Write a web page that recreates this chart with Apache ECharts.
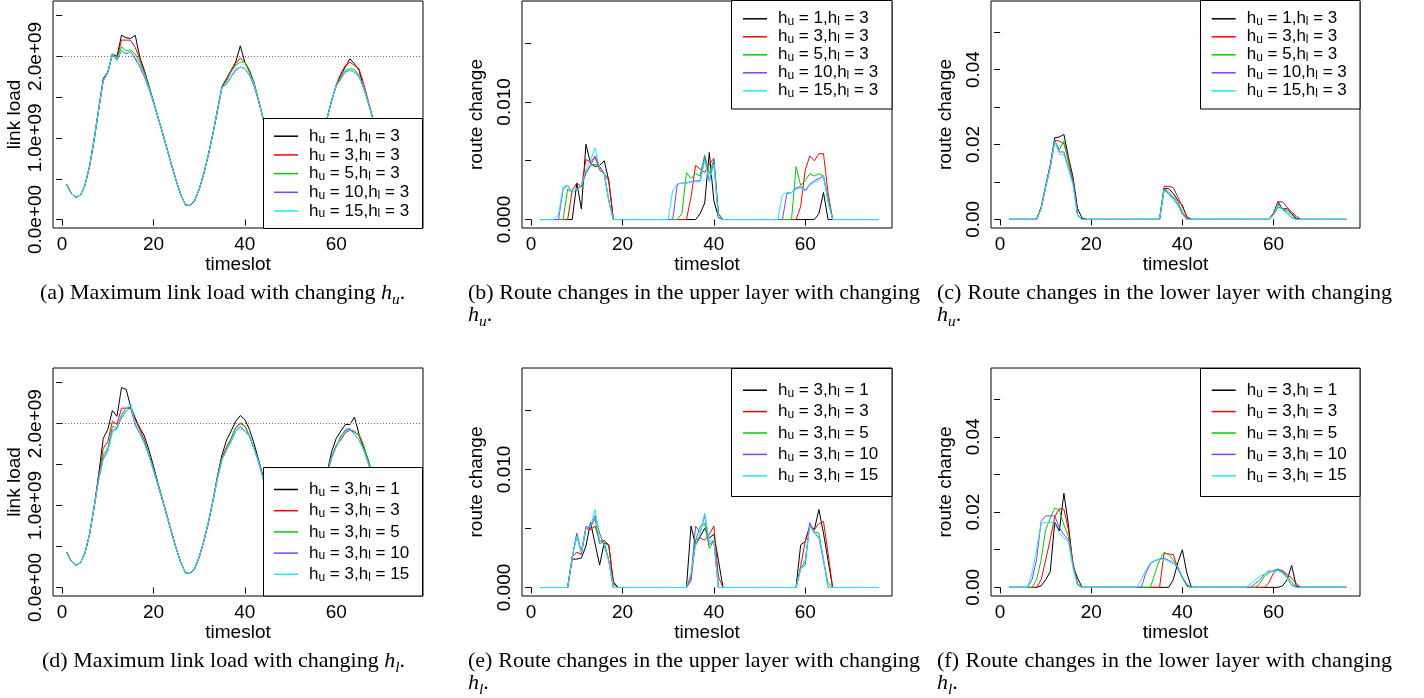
<!DOCTYPE html>
<html>
<head>
<meta charset="utf-8">
<script src="https://cdn.jsdelivr.net/npm/echarts@6/dist/echarts.min.js"></script>
<style>
  html, body { margin: 0; padding: 0; background: #fff; }
  #chart { position: absolute; left: 0; top: 0; width: 1424px; height: 698px; }
  .cap { position: absolute; font-family: 'Liberation Serif', 'Times New Roman', serif; font-size: 22px; line-height: 22px; color: #000; white-space: nowrap; }
  .cap .just { text-align: justify; text-align-last: justify; white-space: normal; }
  .cap sub { font-size: 70%; line-height: 0; vertical-align: -0.3em; }
</style>
</head>
<body>
<div id="chart"></div>
<div class="cap" style="left:40px;top:281px">(a) Maximum link load with changing <i>h<sub>u</sub></i>.</div>
<div class="cap" style="left:468px;top:281px;width:452px"><div class="just">(b) Route changes in the upper layer with changing</div><div><i>h<sub>u</sub></i>.</div></div>
<div class="cap" style="left:937px;top:281px;width:455px"><div class="just">(c) Route changes in the lower layer with changing</div><div><i>h<sub>u</sub></i>.</div></div>
<div class="cap" style="left:42px;top:649px">(d) Maximum link load with changing <i>h<sub>l</sub></i>.</div>
<div class="cap" style="left:468px;top:649px;width:452px"><div class="just">(e) Route changes in the upper layer with changing</div><div><i>h<sub>l</sub></i>.</div></div>
<div class="cap" style="left:937px;top:649px;width:455px"><div class="just">(f) Route changes in the lower layer with changing</div><div><i>h<sub>l</sub></i>.</div></div>
<script>
// timeslots
const timeslotLoad = [1,2,3,4,5,6,7,8,9,10,11,12,13,14,15,16,17,18,19,20,21,22,23,24,25,26,27,28,29,30,31,32,33,34,35,36,37,38,
  39,40,41,42,43,44,45,46,47,48,49,50,51,52,53,54,55,56,57,58,59,60,61,62,63,64,65,66,67,68,69,70,71,72,73,74,75,76];
const timeslotRoute = [2,3,4,5,6,7,8,9,10,11,12,13,14,15,16,17,18,19,20,21,22,23,24,25,26,27,28,29,30,31,32,33,34,35,36,37,38,
  39,40,41,42,43,44,45,46,47,48,49,50,51,52,53,54,55,56,57,58,59,60,61,62,63,64,65,66,67,68,69,70,71,72,73,74,75,76];

// legend names
const namesHu = ['h_u = 1,h_l = 3', 'h_u = 3,h_l = 3', 'h_u = 5,h_l = 3', 'h_u = 10,h_l = 3', 'h_u = 15,h_l = 3'];
const namesHl = ['h_u = 3,h_l = 1', 'h_u = 3,h_l = 3', 'h_u = 3,h_l = 5', 'h_u = 3,h_l = 10', 'h_u = 3,h_l = 15'];

// maximum link load, in units of 1e9
const linkCapacity = 2.0;
const loadHu1 = [0.43,0.32,0.27,0.30,0.42,0.65,0.98,1.35,1.73,1.81,
  2.03,2.00,2.26,2.23,2.22,2.26,1.99,1.83,1.64,1.45,
  1.25,1.06,0.86,0.66,0.47,0.30,0.18,0.17,0.23,0.37,
  0.56,0.79,1.05,1.34,1.63,1.73,1.83,1.93,2.13,1.93,
  1.83,1.68,1.46,1.24,1.03,0.82,0.62,0.44,0.29,0.19,
  0.16,0.18,0.26,0.41,0.61,0.83,1.04,1.24,1.46,1.64,
  1.77,1.87,1.97,1.91,1.83,1.62,1.44,1.24,1.02,0.81,
  0.61,0.44,0.31,0.23,0.19,0.18];
const loadHu3 = [0.43,0.32,0.27,0.30,0.42,0.65,0.98,1.35,1.71,1.81,
  2.03,1.97,2.20,2.20,2.20,2.11,1.97,1.81,1.62,1.44,
  1.25,1.06,0.86,0.66,0.47,0.30,0.18,0.17,0.23,0.37,
  0.56,0.79,1.05,1.34,1.62,1.72,1.83,1.91,1.98,1.93,
  1.81,1.67,1.46,1.24,1.03,0.82,0.62,0.44,0.29,0.19,
  0.16,0.18,0.26,0.41,0.61,0.83,1.04,1.24,1.46,1.65,
  1.79,1.89,1.93,1.89,1.85,1.67,1.46,1.25,1.02,0.81,
  0.61,0.44,0.31,0.23,0.19,0.18];
const loadHu5 = [0.43,0.32,0.27,0.30,0.42,0.65,0.98,1.35,1.71,1.81,
  2.03,1.97,2.12,2.07,2.08,2.03,1.93,1.79,1.62,1.44,
  1.25,1.06,0.86,0.66,0.47,0.30,0.18,0.17,0.23,0.37,
  0.56,0.79,1.05,1.34,1.62,1.70,1.81,1.89,1.93,1.93,
  1.81,1.67,1.46,1.24,1.03,0.82,0.62,0.44,0.29,0.19,
  0.16,0.18,0.26,0.41,0.61,0.83,1.04,1.24,1.46,1.64,
  1.74,1.83,1.85,1.84,1.77,1.62,1.44,1.24,1.02,0.81,
  0.61,0.44,0.31,0.23,0.19,0.18];
const loadHu10 = [0.43,0.32,0.27,0.30,0.42,0.65,0.98,1.35,1.70,1.80,
  2.03,1.95,2.07,2.03,2.06,1.97,1.87,1.75,1.60,1.43,
  1.25,1.06,0.86,0.66,0.47,0.30,0.18,0.17,0.23,0.37,
  0.56,0.79,1.05,1.34,1.62,1.66,1.75,1.83,1.87,1.85,
  1.77,1.64,1.45,1.24,1.03,0.82,0.62,0.44,0.29,0.19,
  0.16,0.18,0.26,0.41,0.61,0.83,1.04,1.24,1.46,1.64,
  1.72,1.81,1.83,1.81,1.75,1.61,1.43,1.24,1.02,0.81,
  0.61,0.44,0.31,0.23,0.19,0.18];
const loadHu15 = [0.43,0.32,0.27,0.30,0.42,0.65,0.98,1.35,1.70,1.80,
  2.03,1.96,2.07,2.04,2.06,1.99,1.89,1.78,1.61,1.44,
  1.25,1.06,0.86,0.66,0.47,0.30,0.18,0.17,0.23,0.37,
  0.56,0.79,1.05,1.34,1.62,1.67,1.76,1.85,1.87,1.85,
  1.78,1.66,1.46,1.24,1.03,0.82,0.62,0.44,0.29,0.19,
  0.16,0.18,0.26,0.41,0.61,0.83,1.04,1.24,1.46,1.64,
  1.72,1.82,1.83,1.81,1.76,1.62,1.44,1.24,1.02,0.81,
  0.61,0.44,0.31,0.23,0.19,0.18];

const loadHl1 = [0.43,0.32,0.27,0.30,0.42,0.65,0.98,1.38,1.82,1.93,
  2.16,2.09,2.44,2.42,2.21,2.07,1.95,1.85,1.68,1.48,
  1.27,1.07,0.87,0.67,0.47,0.30,0.18,0.17,0.23,0.37,
  0.56,0.79,1.06,1.36,1.62,1.80,1.91,2.03,2.10,2.05,
  1.93,1.76,1.56,1.36,1.12,0.88,0.65,0.45,0.29,0.19,
  0.16,0.18,0.26,0.41,0.62,0.86,1.10,1.40,1.66,1.82,
  1.91,1.99,1.99,2.08,1.87,1.72,1.56,1.36,1.10,0.86,
  0.64,0.46,0.32,0.24,0.20,0.19];
const loadHl3 = [0.43,0.32,0.27,0.30,0.42,0.65,0.98,1.35,1.70,1.78,
  2.03,1.99,2.19,2.19,2.19,2.05,1.93,1.80,1.62,1.45,
  1.25,1.06,0.86,0.66,0.47,0.30,0.18,0.17,0.23,0.37,
  0.56,0.79,1.05,1.34,1.58,1.72,1.82,1.95,2.01,1.97,
  1.85,1.70,1.54,1.34,1.10,0.86,0.64,0.45,0.29,0.19,
  0.16,0.18,0.26,0.41,0.61,0.84,1.08,1.38,1.60,1.74,
  1.80,1.89,1.92,1.91,1.85,1.70,1.54,1.34,1.08,0.84,
  0.62,0.45,0.31,0.23,0.19,0.18];
const loadHl5 = [0.43,0.32,0.27,0.30,0.42,0.65,0.98,1.33,1.62,1.70,
  1.97,1.95,2.07,2.15,2.20,2.00,1.89,1.78,1.62,1.44,
  1.25,1.06,0.86,0.66,0.47,0.30,0.18,0.17,0.23,0.37,
  0.56,0.79,1.05,1.34,1.58,1.68,1.82,1.95,2.00,1.97,
  1.85,1.70,1.54,1.34,1.10,0.86,0.64,0.45,0.29,0.19,
  0.16,0.18,0.26,0.41,0.61,0.84,1.08,1.38,1.60,1.72,
  1.85,1.91,1.93,1.89,1.87,1.74,1.55,1.34,1.08,0.84,
  0.62,0.45,0.31,0.23,0.19,0.18];
const loadHl10 = [0.43,0.32,0.27,0.30,0.42,0.65,0.98,1.32,1.58,1.67,
  1.92,1.94,2.11,2.19,2.20,1.98,1.88,1.76,1.61,1.43,
  1.25,1.06,0.86,0.66,0.47,0.30,0.18,0.17,0.23,0.37,
  0.56,0.79,1.05,1.33,1.56,1.68,1.78,1.91,1.97,1.91,
  1.85,1.70,1.53,1.33,1.10,0.86,0.64,0.45,0.29,0.19,
  0.16,0.18,0.26,0.41,0.61,0.84,1.08,1.37,1.58,1.72,
  1.82,1.93,1.94,1.87,1.80,1.68,1.52,1.33,1.08,0.84,
  0.62,0.45,0.31,0.23,0.19,0.18];
const loadHl15 = [0.43,0.32,0.27,0.30,0.42,0.65,0.98,1.31,1.56,1.66,
  1.89,1.93,2.09,2.18,2.25,1.99,1.89,1.76,1.61,1.43,
  1.25,1.06,0.86,0.66,0.47,0.30,0.18,0.17,0.23,0.37,
  0.56,0.79,1.05,1.33,1.56,1.68,1.78,1.91,1.94,1.91,
  1.85,1.70,1.53,1.33,1.10,0.86,0.64,0.45,0.29,0.19,
  0.16,0.18,0.26,0.41,0.61,0.84,1.08,1.37,1.58,1.72,
  1.82,1.91,1.92,1.87,1.80,1.68,1.52,1.33,1.08,0.84,
  0.62,0.45,0.31,0.23,0.19,0.18];

// route changes in the upper layer, changing h_u (timeslot 2..76)
const routeUpHu1 = [0,0,0,0,0,0,0,0,0.0031,0.0009,
  0.0064,0.0048,0.0045,0.0046,0.0050,0.0033,0,0,0,0,
  0,0,0,0,0,0,0,0,0,0,
  0,0,0,0,0,0.0005,0.0014,0.0057,0.0016,0.0002,
  0,0,0,0,0,0,0,0,0,0,
  0,0,0,0,0,0,0,0,0,0,
  0,0.0005,0.0023,0,0,0,0,0,0,0,
  0,0,0,0,0];
const routeUpHu3 = [0,0,0,0,0,0,0,0.0025,0.0031,0.0028,
  0.0051,0.0049,0.0053,0.0042,0.0039,0.0033,0,0,0,0,
  0,0,0,0,0,0,0,0,0,0,
  0,0,0,0.0019,0.0046,0.0043,0.0040,0.0047,0.0052,0.0005,
  0,0,0,0,0,0,0,0,0,0,
  0,0,0,0,0,0,0,0.0011,0.0042,0.0054,
  0.0050,0.0056,0.0056,0.0023,0,0,0,0,0,0,
  0,0,0,0,0];
const routeUpHu5 = [0,0,0,0,0,0,0.0026,0.0023,0.0026,0.0028,
  0.0039,0.0046,0.0047,0.0045,0.0039,0.0016,0,0,0,0,
  0,0,0,0,0,0,0,0,0,0,
  0,0.0005,0.0040,0.0035,0.0039,0.0037,0.0055,0.0039,0.0051,0.0005,
  0,0,0,0,0,0,0,0,0,0,
  0,0,0,0,0,0,0.0045,0.0029,0.0033,0.0039,
  0.0037,0.0039,0.0037,0.0019,0,0,0,0,0,0,
  0,0,0,0,0];
const routeUpHu10 = [0,0,0,0,0,0.0026,0.0029,0.0023,0.0026,0.0029,
  0.0040,0.0046,0.0054,0.0045,0.0039,0.0016,0,0,0,0,
  0,0,0,0,0,0,0,0,0,0,
  0.0030,0.0031,0.0031,0.0032,0.0033,0.0033,0.0053,0.0033,0.0049,0.0002,
  0,0,0,0,0,0,0,0,0,0,
  0,0,0,0,0.0022,0.0023,0.0027,0.0028,0.0025,0.0030,
  0.0033,0.0035,0.0037,0.0016,0,0,0,0,0,0,
  0,0,0,0,0];
const routeUpHu15 = [0,0,0,0,0.0004,0.0028,0.0029,0.0023,0.0026,0.0029,
  0.0042,0.0050,0.0061,0.0043,0.0040,0.0016,0,0,0,0,
  0,0,0,0,0,0,0,0,0,0.0025,
  0.0030,0.0031,0.0031,0.0032,0.0032,0.0032,0.0050,0.0032,0.0047,0.0001,
  0,0,0,0,0,0,0,0,0,0,
  0,0,0,0.0021,0.0023,0.0023,0.0026,0.0027,0.0024,0.0029,
  0.0032,0.0033,0.0037,0.0015,0,0,0,0,0,0,
  0,0,0,0,0];

// route changes in the lower layer, changing h_u
const routeLowHu1 = [0,0,0,0,0,0,0,0.0029,0.0090,0.0145,
  0.0218,0.0220,0.0227,0.0166,0.0113,0.0029,0.0003,0,0,0,
  0,0,0,0,0,0,0,0,0,0,
  0,0,0,0,0.0082,0.0082,0.0069,0.0051,0.0038,0.0005,
  0,0,0,0,0,0,0,0,0,0,
  0,0,0,0,0,0,0,0,0.0016,0.0047,
  0.0027,0.0029,0.0016,0.0003,0,0,0,0,0,0,
  0,0,0,0,0];
const routeLowHu3 = [0,0,0,0,0,0,0,0.0034,0.0087,0.0140,
  0.0211,0.0209,0.0202,0.0162,0.0104,0.0012,0,0,0,0,
  0,0,0,0,0,0,0,0,0,0,
  0,0,0,0,0.0088,0.0088,0.0085,0.0060,0.0034,0.0007,
  0,0,0,0,0,0,0,0,0,0,
  0,0,0,0,0,0,0,0,0.0014,0.0047,
  0.0047,0.0032,0.0020,0.0009,0,0,0,0,0,0,
  0,0,0,0,0];
const routeLowHu5 = [0,0,0,0,0,0,0,0.0029,0.0087,0.0140,
  0.0210,0.0186,0.0209,0.0153,0.0100,0.0012,0,0,0,0,
  0,0,0,0,0,0,0,0,0,0,
  0,0,0,0,0.0082,0.0073,0.0060,0.0047,0.0020,0,
  0,0,0,0,0,0,0,0,0,0,
  0,0,0,0,0,0,0,0,0.0012,0.0032,
  0.0029,0.0023,0.0012,0,0,0,0,0,0,0,
  0,0,0,0,0];
const routeLowHu10 = [0,0,0,0,0,0,0,0.0029,0.0087,0.0140,
  0.0210,0.0180,0.0180,0.0140,0.0100,0.0012,0,0,0,0,
  0,0,0,0,0,0,0,0,0,0,
  0,0,0,0,0.0080,0.0069,0.0056,0.0041,0.0016,0,
  0,0,0,0,0,0,0,0,0,0,
  0,0,0,0,0,0,0,0,0.0012,0.0038,
  0.0027,0.0018,0.0005,0,0,0,0,0,0,0,
  0,0,0,0,0];
const routeLowHu15 = [0,0,0,0,0,0,0,0.0028,0.0085,0.0138,
  0.0208,0.0175,0.0173,0.0135,0.0091,0.0012,0,0,0,0,
  0,0,0,0,0,0,0,0,0,0,
  0,0,0,0,0.0078,0.0067,0.0053,0.0038,0.0012,0,
  0,0,0,0,0,0,0,0,0,0,
  0,0,0,0,0,0,0,0,0.0012,0.0041,
  0.0025,0.0016,0.0003,0,0,0,0,0,0,0,
  0,0,0,0,0];

// route changes in the upper layer, changing h_l
const routeUpHl1 = [0,0,0,0,0,0,0,0.0024,0.0024,0.0025,
  0.0035,0.0055,0.0037,0.0019,0.0038,0.0036,0.0005,0,0,0,
  0,0,0,0,0,0,0,0,0,0,
  0,0,0,0.0052,0.0036,0.0043,0.0050,0.0042,0.0045,0.0023,
  0,0,0,0,0,0,0,0,0,0,
  0,0,0,0,0,0,0,0.0036,0.0039,0.0052,
  0.0049,0.0066,0.0046,0.0023,0,0,0,0,0,0,
  0,0,0,0,0];
const routeUpHl3 = [0,0,0,0,0,0,0,0.0026,0.0030,0.0028,
  0.0050,0.0049,0.0052,0.0039,0.0040,0.0036,0.0003,0,0,0,
  0,0,0,0,0,0,0,0,0,0,
  0,0,0,0.0006,0.0040,0.0042,0.0040,0.0045,0.0052,0.0009,
  0,0,0,0,0,0,0,0,0,0,
  0,0,0,0,0,0,0,0.0018,0.0039,0.0052,
  0.0049,0.0054,0.0056,0.0029,0,0,0,0,0,0,
  0,0,0,0,0];
const routeUpHl5 = [0,0,0,0,0,0,0,0.0026,0.0043,0.0030,
  0.0050,0.0052,0.0058,0.0037,0.0039,0.0023,0,0,0,0,
  0,0,0,0,0,0,0,0,0,0,
  0,0,0,0.0009,0.0040,0.0052,0.0054,0.0033,0.0040,0,
  0,0,0,0,0,0,0,0,0,0,
  0,0,0,0,0,0,0,0.0016,0.0019,0.0053,
  0.0047,0.0046,0.0023,0.0004,0,0,0,0,0,0,
  0,0,0,0,0];
const routeUpHl10 = [0,0,0,0,0,0,0,0.0026,0.0046,0.0030,
  0.0052,0.0050,0.0061,0.0046,0.0035,0.0023,0,0,0,0,
  0,0,0,0,0,0,0,0,0,0,
  0,0,0,0.0009,0.0052,0.0046,0.0061,0.0036,0.0040,0,
  0,0,0,0,0,0,0,0,0,0,
  0,0,0,0,0,0,0,0.0016,0.0022,0.0055,
  0.0046,0.0042,0.0023,0,0,0,0,0,0,0,
  0,0,0,0,0];
const routeUpHl15 = [0,0,0,0,0,0,0,0.0026,0.0043,0.0030,
  0.0050,0.0052,0.0066,0.0040,0.0036,0.0022,0,0,0,0,
  0,0,0,0,0,0,0,0,0,0,
  0,0,0,0.0012,0.0036,0.0046,0.0063,0.0039,0.0040,0,
  0,0,0,0,0,0,0,0,0,0,
  0,0,0,0,0,0,0,0.0016,0.0023,0.0052,
  0.0046,0.0043,0.0025,0,0,0,0,0,0,0,
  0,0,0,0,0];

// route changes in the lower layer, changing h_l
const routeLowHl1 = [0,0,0,0,0,0,0,0.0004,0.0020,0.0042,
  0.0173,0.0150,0.0250,0.0166,0.0056,0.0025,0,0,0,0,
  0,0,0,0,0,0,0,0,0,0,
  0,0,0,0,0,0,0.0020,0.0065,0.0100,0.0038,
  0,0,0,0,0,0,0,0,0,0,
  0,0,0,0,0,0,0,0,0,0,
  0.0004,0.0020,0.0058,0.0003,0,0,0,0,0,0,
  0,0,0,0,0];
const routeLowHl3 = [0,0,0,0,0,0,0,0.0020,0.0073,0.0127,
  0.0188,0.0209,0.0208,0.0153,0.0065,0.0010,0,0,0,0,
  0,0,0,0,0,0,0,0,0,0,
  0,0,0,0,0.0091,0.0089,0.0087,0.0051,0.0027,0.0003,
  0,0,0,0,0,0,0,0,0,0,
  0,0,0,0,0,0,0,0.0012,0.0038,0.0047,
  0.0045,0.0034,0.0025,0.0010,0,0,0,0,0,0,
  0,0,0,0,0];
const routeLowHl5 = [0,0,0,0,0,0,0.0020,0.0073,0.0153,0.0184,
  0.0211,0.0206,0.0166,0.0135,0.0060,0.0007,0,0,0,0,
  0,0,0,0,0,0,0,0,0,0,
  0,0,0.0038,0.0073,0.0093,0.0087,0.0073,0.0051,0.0025,0.0004,
  0,0,0,0,0,0,0,0,0,0,
  0,0,0,0,0,0.0010,0.0029,0.0038,0.0045,0.0049,
  0.0042,0.0031,0.0013,0,0,0,0,0,0,0,
  0,0,0,0,0];
const routeLowHl10 = [0,0,0,0,0,0.0020,0.0073,0.0175,0.0190,0.0190,
  0.0190,0.0158,0.0140,0.0127,0.0056,0.0007,0,0,0,0,
  0,0,0,0,0,0,0,0,0,0,
  0.0038,0.0063,0.0071,0.0075,0.0078,0.0072,0.0065,0.0051,0.0027,0.0007,
  0,0,0,0,0,0,0,0,0,0,
  0,0,0,0,0.0010,0.0020,0.0034,0.0044,0.0042,0.0047,
  0.0040,0.0025,0.0005,0,0,0,0,0,0,0,
  0,0,0,0,0];
const routeLowHl15 = [0,0,0,0,0,0.0038,0.0100,0.0170,0.0173,0.0173,
  0.0170,0.0144,0.0131,0.0122,0.0051,0.0007,0,0,0,0,
  0,0,0,0,0,0,0,0,0,0.0020,
  0.0045,0.0066,0.0072,0.0075,0.0075,0.0069,0.0063,0.0056,0.0029,0.0010,
  0,0,0,0,0,0,0,0,0,0,
  0,0,0,0.0010,0.0020,0.0029,0.0035,0.0041,0.0042,0.0045,
  0.0038,0.0025,0.0007,0,0,0,0,0,0,0,
  0,0,0,0,0];

// tick positions
const xTicks = [0, 20, 40, 60];
const loadTicks = [0, 0.5, 1, 1.5, 2, 2.5];
const loadLabels = [0, 1, 2];
const upTicks = [0, 0.005, 0.01, 0.015];
const upLabels = [0, 0.01];
const lowTicks = [0, 0.01, 0.02, 0.03, 0.04, 0.05];
const lowLabels = [0, 0.02, 0.04];

const lineColors = ['#000000', '#ff0000', '#00cd00', '#8040ff', '#1ee8ff'];
const FONT = "'Liberation Sans', Arial, Helvetica, sans-serif";

function sci(v) {
    const s = (v * 1e9).toExponential(1);
    const parts = s.split('e');
    return parts[0] + 'e' + parts[1][0] + parts[1].slice(1).padStart(2, '0');
}

const panels = [
    { grid: { left: 53, top: 1, width: 370, height: 227 }, xs: timeslotLoad,
      ys: [loadHu1, loadHu3, loadHu5, loadHu10, loadHu15], names: namesHu,
      yMin: -0.104, yMax: 2.68, ticks: loadTicks, labels: loadLabels, fmt: sci,
      yName: 'link load', nameGap: 29, capacity: true,
      legend: { left: 274, top: 127.7, gap: 1.2 }, box: [263.5, 118.5, 159, 110] },
    { grid: { left: 522, top: 1, width: 370, height: 227 }, xs: timeslotRoute,
      ys: [routeUpHu1, routeUpHu3, routeUpHu5, routeUpHu10, routeUpHu15], names: namesHu,
      yMin: -0.00072, yMax: 0.01858, ticks: upTicks, labels: upLabels, fmt: (v) => v.toFixed(3),
      yName: 'route change', nameGap: 36,
      legend: { left: 743, top: 10.3, gap: 0.5 }, box: [731.5, 0.5, 160.5, 108.5] },
    { grid: { left: 991, top: 1, width: 369, height: 227 }, xs: timeslotRoute,
      ys: [routeLowHu1, routeLowHu3, routeLowHu5, routeLowHu10, routeLowHu15], names: namesHu,
      yMin: -0.0023, yMax: 0.0583, ticks: lowTicks, labels: lowLabels, fmt: (v) => v.toFixed(2),
      yName: 'route change', nameGap: 36,
      legend: { left: 1211.7, top: 10.3, gap: 0.5 }, box: [1200.5, 0.5, 159.5, 108.5] },
    { grid: { left: 53, top: 368, width: 370, height: 228 }, xs: timeslotLoad,
      ys: [loadHl1, loadHl3, loadHl5, loadHl10, loadHl15], names: namesHl,
      yMin: -0.104, yMax: 2.68, ticks: loadTicks, labels: loadLabels, fmt: sci,
      yName: 'link load', nameGap: 29, capacity: true,
      legend: { left: 274, top: 481, gap: 3.7 }, box: [263.5, 467.5, 159, 128.5] },
    { grid: { left: 522, top: 368, width: 370, height: 228 }, xs: timeslotRoute,
      ys: [routeUpHl1, routeUpHl3, routeUpHl5, routeUpHl10, routeUpHl15], names: namesHl,
      yMin: -0.00072, yMax: 0.01858, ticks: upTicks, labels: upLabels, fmt: (v) => v.toFixed(3),
      yName: 'route change', nameGap: 36,
      legend: { left: 743, top: 381.7, gap: 3.9 }, box: [731.5, 368.5, 160.5, 128] },
    { grid: { left: 991, top: 368, width: 369, height: 228 }, xs: timeslotRoute,
      ys: [routeLowHl1, routeLowHl3, routeLowHl5, routeLowHl10, routeLowHl15], names: namesHl,
      yMin: -0.0023, yMax: 0.0583, ticks: lowTicks, labels: lowLabels, fmt: (v) => v.toFixed(2),
      yName: 'route change', nameGap: 36,
      legend: { left: 1211.7, top: 381.7, gap: 3.9 }, box: [1200.5, 368.5, 159.5, 128] }
];

const chart = echarts.init(document.getElementById('chart'));

const grid = panels.map((p) => Object.assign({
    show: true, borderColor: '#000', borderWidth: 1, backgroundColor: 'transparent',
    containLabel: false, outerBoundsMode: 'none'
}, p.grid));

const xAxis = panels.map((p, i) => ({
    type: 'value', gridIndex: i, min: -2, max: 79,
    name: 'timeslot', nameLocation: 'middle', nameGap: 25,
    nameTextStyle: { color: '#000', fontSize: 19, fontFamily: FONT },
    axisLine: { show: false },
    axisTick: { show: true, inside: false, length: 6, customValues: xTicks, lineStyle: { color: '#000', width: 1 } },
    axisLabel: { customValues: xTicks, margin: 7, color: '#000', fontSize: 19, fontFamily: FONT },
    splitLine: { show: false }
}));

const yAxis = panels.map((p, i) => ({
    type: 'value', gridIndex: i, min: p.yMin, max: p.yMax,
    name: p.yName, nameLocation: 'middle', nameRotate: 90, nameGap: p.nameGap,
    nameTextStyle: { color: '#000', fontSize: 19, fontFamily: FONT },
    axisLine: { show: false },
    axisTick: { show: true, inside: false, length: 6, customValues: p.ticks, lineStyle: { color: '#000', width: 1 } },
    axisLabel: { customValues: p.labels, rotate: 90, margin: 8, color: '#000', fontSize: 19, fontFamily: FONT, formatter: p.fmt },
    splitLine: { show: false }
}));

const series = [];
panels.forEach((p, i) => {
    p.ys.forEach((ys, k) => {
        const s = {
            type: 'line', name: p.names[k], xAxisIndex: i, yAxisIndex: i,
            data: p.xs.map((x, j) => [x, ys[j]]),
            showSymbol: false, symbol: 'none', silent: true, z: 2,
            lineStyle: { width: 1, color: lineColors[k] },
            itemStyle: { color: lineColors[k] },
            emphasis: { disabled: true }
        };
        if (p.capacity && k === 0) {
            s.markLine = {
                silent: true, symbol: 'none', label: { show: false },
                lineStyle: { type: [1, 2], color: '#666', width: 1 },
                data: [{ yAxis: linkCapacity }]
            };
        }
        series.push(s);
    });
});

const legendRich = {
    g: { width: 6, fontSize: 17, lineHeight: 18 },
    n: { fontSize: 17, lineHeight: 18, fontFamily: FONT, color: '#000' },
    s: { fontSize: 12, lineHeight: 7, verticalAlign: 'bottom', fontFamily: FONT, color: '#000' }
};

// legends sit on their own layer above the white boxes that hide the lines
const legend = panels.map((p) => ({
    data: p.names, orient: 'vertical', left: p.legend.left, top: p.legend.top,
    itemGap: p.legend.gap, padding: 0, icon: 'rect', itemWidth: 24, itemHeight: 1.5,
    selectedMode: false, zlevel: 2, z: 20,
    textStyle: { color: '#000', fontSize: 17, fontFamily: FONT, rich: legendRich },
    formatter: (name) => {
        const m = name.match(/\d+/g);
        return '{g| }{n|h}{s|u}{n| = ' + m[0] + ',h}{s|l}{n| = ' + m[1] + '}';
    }
}));

const boxes = panels.map((p) => ({
    type: 'rect', silent: true, zlevel: 1, z: 10,
    shape: { x: p.box[0], y: p.box[1], width: p.box[2], height: p.box[3] },
    style: { fill: '#ffffff', stroke: '#000000', lineWidth: 1 }
}));

chart.setOption({
    animation: false,
    backgroundColor: '#fff',
    grid, xAxis, yAxis, series, legend,
    graphic: boxes
});

window.addEventListener('resize', () => chart.resize());
</script>
</body>
</html>
